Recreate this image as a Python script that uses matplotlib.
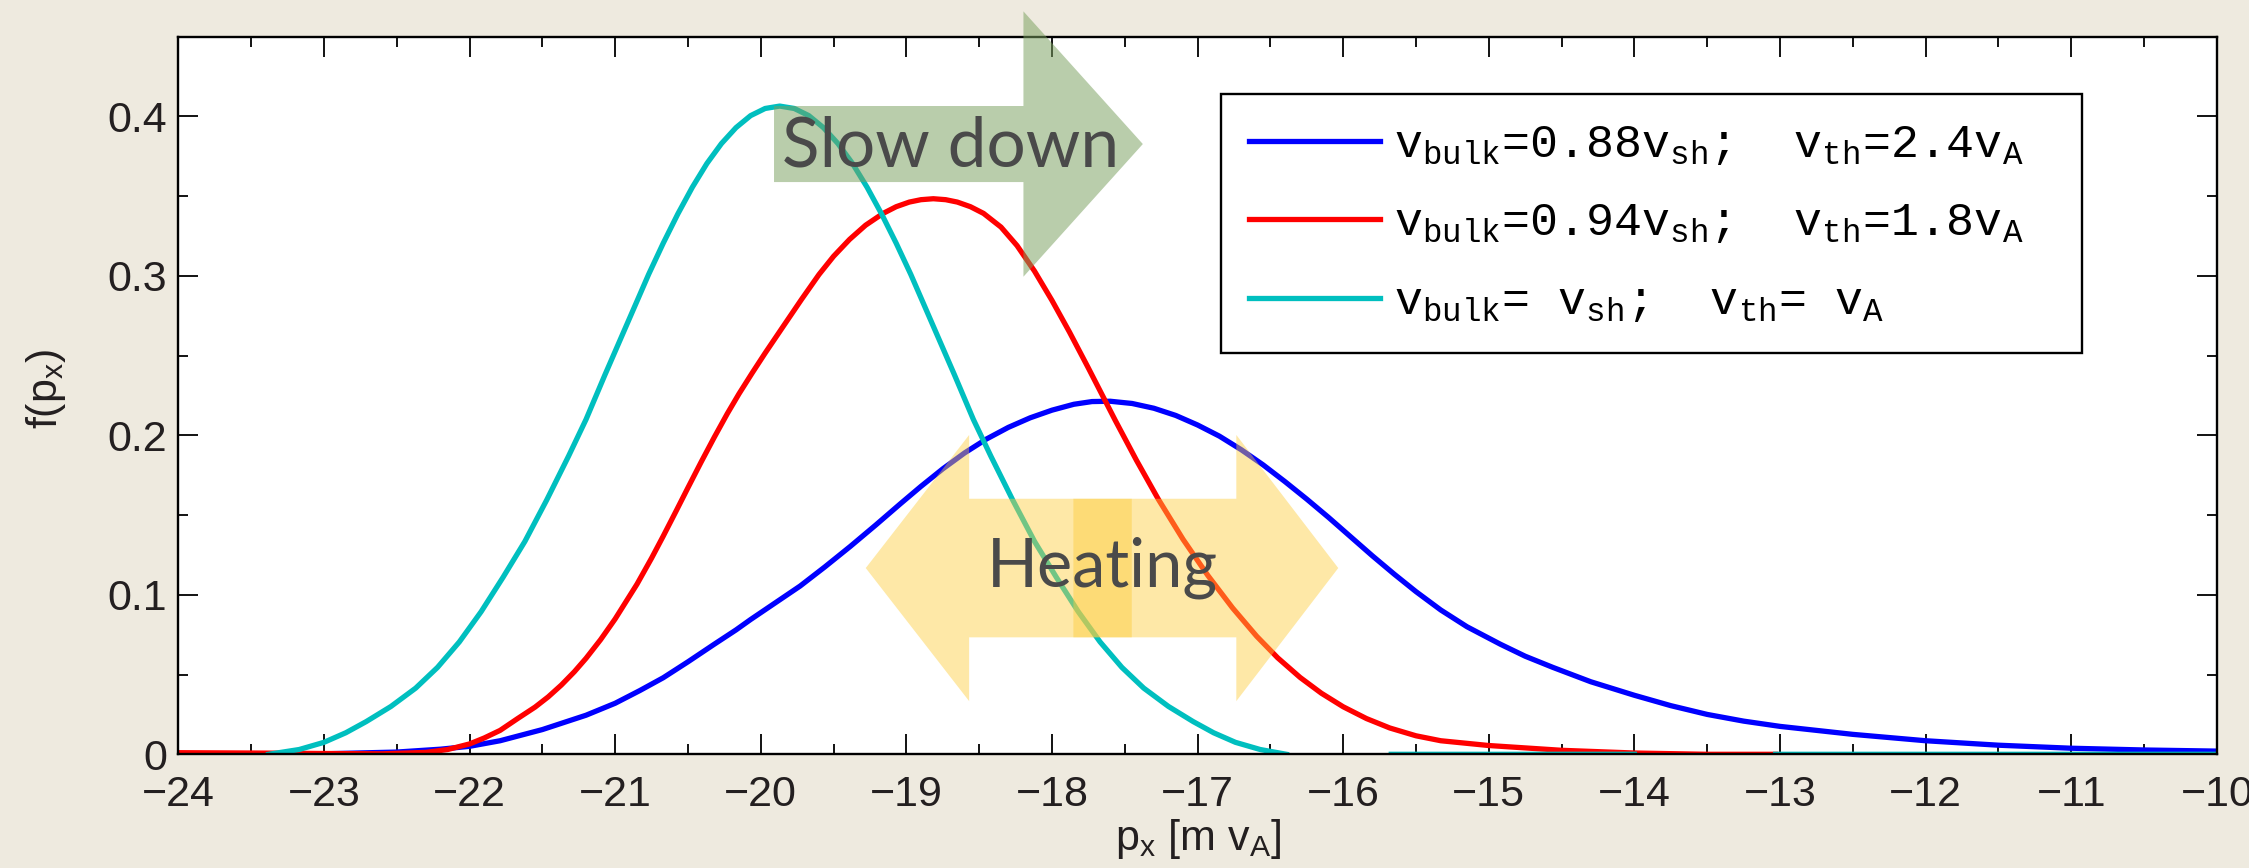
import numpy as np
import matplotlib
matplotlib.use('Agg')
from matplotlib import pyplot as plt
from matplotlib import patches as mpatches
from matplotlib.ticker import MultipleLocator, FixedLocator, FixedFormatter

nan = np.nan

# p_x samples and f(p_x), one pair of lists per curve
px_blue = [-24.0, -23.5, -23.0, -22.5, -22.2, -22.0, -21.79, -21.5, -21.2, -21.0,
           -20.83, -20.67, -20.5, -20.32, -20.17, -20.07, -19.9, -19.73, -19.56, -19.386,
           -19.21, -19.04, -18.9, -18.75, -18.6, -18.45, -18.3, -18.15, -18.0, -17.85,
           -17.725, -17.6, -17.45, -17.3, -17.15, -17.0, -16.85, -16.7, -16.55, -16.4,
           -16.25, -16.1, -15.95, -15.8, -15.65, -15.5, -15.33, -15.15, -14.92, -14.75,
           -14.56, -14.3, -14.0, -13.75, -13.5, -13.25, -13.0, -12.5, -12.0, -11.5,
           -11.0, -10.5, -10.0]
f_blue = [0.0, 0.0001, 0.0003, 0.0014, 0.0032, 0.005, 0.0085, 0.0155, 0.0245, 0.032,
          0.040, 0.048, 0.058, 0.069, 0.078, 0.0845, 0.095, 0.1055, 0.1175, 0.1303,
          0.1438, 0.1572, 0.168, 0.179, 0.189, 0.1977, 0.205, 0.211, 0.2158, 0.2195,
          0.2212, 0.2214, 0.220, 0.217, 0.2125, 0.2065, 0.1995, 0.191, 0.1815, 0.171,
          0.160, 0.1485, 0.1365, 0.1245, 0.113, 0.102, 0.0905, 0.080, 0.069, 0.0615,
          0.0545, 0.0455, 0.037, 0.0305, 0.025, 0.0208, 0.0175, 0.0125, 0.0085, 0.0057,
          0.0038, 0.0027, 0.002]

px_red = [-24.0, -23.5, -23.0, -22.6, -22.3, -22.15, -22.0, -21.9, -21.79, -21.67,
          -21.55, -21.46, -21.37, -21.28, -21.2, -21.1, -21.0, -20.85, -20.75, -20.67,
          -20.58, -20.5, -20.41, -20.32, -20.23, -20.15, -20.06, -19.97, -19.85, -19.72,
          -19.6, -19.5, -19.39, -19.28, -19.16, -19.07, -18.98, -18.9, -18.815, -18.73,
          -18.65, -18.56, -18.47, -18.35, -18.24, -18.12, -18.0, -17.88, -17.75, -17.66,
          -17.566, -17.42, -17.27, -17.1, -16.93, -16.76, -16.594, -16.45, -16.296, -16.15,
          -16.0, -15.84, -15.68, -15.5, -15.33, -15.0, -14.5, -14.0, -13.5, -13.03]
f_red = [0.001, 0.0008, 0.0005, 0.0003, 0.0012, 0.003, 0.0065, 0.0102, 0.015, 0.0224,
         0.0296, 0.036, 0.0434, 0.0518, 0.0602, 0.0719, 0.0849, 0.1067, 0.123, 0.1368,
         0.1528, 0.1672, 0.1832, 0.1987, 0.2136, 0.226, 0.239, 0.2516, 0.2678, 0.2853,
         0.3009, 0.3123, 0.3229, 0.3318, 0.3392, 0.3434, 0.3463, 0.3478, 0.3484, 0.3478,
         0.3463, 0.3434, 0.3392, 0.3306, 0.319, 0.303, 0.2846, 0.2648, 0.2422, 0.2262,
         0.2095, 0.1844, 0.160, 0.1348, 0.1122, 0.0918, 0.074, 0.0605, 0.0482, 0.0383,
         0.0298, 0.0224, 0.0165, 0.0116, 0.0085, 0.0055, 0.0025, 0.0008, 0.0, 0.0]

px_cyan = [-23.38, -23.17, -23.0, -22.85, -22.71, -22.54, -22.37, -22.22, -22.07, -21.92,
           -21.77, -21.62, -21.47, -21.32, -21.2, -21.07, -20.97, -20.87, -20.77, -20.67,
           -20.57, -20.47, -20.37, -20.27, -20.17, -20.07, -19.97, -19.87, -19.77, -19.67,
           -19.57, -19.47, -19.37, -19.27, -19.17, -19.07, -18.97, -18.87, -18.77, -18.67,
           -18.54, -18.42, -18.27, -18.12, -17.97, -17.82, -17.67, -17.52, -17.37, -17.2,
           -17.03, -16.89, -16.74, -16.57, -16.39, nan, -15.67, -14.0, nan, -13.03, -10.0]
f_cyan = [0.0, 0.003, 0.0075, 0.0135, 0.0205, 0.030, 0.0415, 0.0545, 0.0705, 0.0895,
          0.111, 0.1335, 0.1595, 0.187, 0.210, 0.238, 0.259, 0.280, 0.301, 0.3205,
          0.3388, 0.3556, 0.3705, 0.383, 0.393, 0.4005, 0.405, 0.4065, 0.405, 0.4005,
          0.393, 0.383, 0.3705, 0.3556, 0.3388, 0.3205, 0.301, 0.280, 0.259, 0.238,
          0.210, 0.187, 0.1595, 0.1335, 0.111, 0.0895, 0.0705, 0.0545, 0.0415, 0.030,
          0.0205, 0.0135, 0.0075, 0.003, 0.0, nan, 0.0, 0.0, nan, 0.0, 0.0]

labels = [
    'v$_{\\mathregular{bulk}}$=0.88v$_{\\mathregular{sh}}$;  v$_{\\mathregular{th}}$=2.4v$_{\\mathregular{A}}$',
    'v$_{\\mathregular{bulk}}$=0.94v$_{\\mathregular{sh}}$;  v$_{\\mathregular{th}}$=1.8v$_{\\mathregular{A}}$',
    'v$_{\\mathregular{bulk}}$= v$_{\\mathregular{sh}}$;  v$_{\\mathregular{th}}$= v$_{\\mathregular{A}}$',
]
colors = ['#0000ff', '#ff0000', '#00bfbf']

xticks = list(range(-24, -9))
yticks = [0, 0.1, 0.2, 0.3, 0.4]
ytick_labels = ['0', '0.1', '0.2', '0.3', '0.4']

plt.rcParams['font.family'] = ['Liberation Sans', 'DejaVu Sans']
plt.rcParams['mathtext.default'] = 'regular'

fig = plt.figure(figsize=(22.49, 8.68), dpi=100, facecolor='#eeeadf')
ax = fig.add_axes([0.0793, 0.1310, 0.9064, 0.8267])
ax.set_facecolor('white')

for xs, ys, c, lab in zip([px_blue, px_red, px_cyan], [f_blue, f_red, f_cyan], colors, labels):
    ax.plot(xs, ys, color=c, lw=3.8, label=lab, zorder=2, solid_joinstyle='round')

ax.set_xlim(-24, -10)
ax.set_ylim(0, 0.45)
ax.xaxis.set_major_locator(FixedLocator(xticks))
ax.xaxis.set_minor_locator(MultipleLocator(0.5))
ax.yaxis.set_major_locator(FixedLocator(yticks))
ax.yaxis.set_major_formatter(FixedFormatter(ytick_labels))
ax.yaxis.set_minor_locator(MultipleLocator(0.05))
ax.tick_params(which='both', direction='in', top=True, right=True, width=1.3, color='black',
               labelsize=31, labelcolor='#231f20')
ax.tick_params(which='major', length=14.5)
ax.tick_params(which='minor', length=7.2)
ax.tick_params(axis='x', pad=15)
ax.tick_params(axis='y', pad=8)
for s in ax.spines.values():
    s.set_linewidth(1.7)
    s.set_zorder(2.5)

ax.set_xlabel('p$_{\\mathregular{x}}$ [m v$_{\\mathregular{A}}$]', fontsize=31, color='#231f20')
ax.xaxis.set_label_coords(0.5, -0.087)
ax.set_ylabel('f(p$_{\\mathregular{x}}$)', fontsize=31, color='#231f20')
ax.yaxis.set_label_coords(-0.054, 0.51)

# annotation arrows
slow = mpatches.FancyArrow(-19.909, 0.3827, 2.533, 0.0, width=0.0477, head_width=0.1664,
                           head_length=0.82, length_includes_head=True,
                           color='#7aa05f', alpha=0.525, lw=0, clip_on=False, zorder=3)
ax.add_patch(slow)
heat_l = mpatches.FancyArrow(-17.452, 0.1168, -1.827, 0.0, width=0.0869, head_width=0.1669,
                             head_length=0.71, length_includes_head=True,
                             color='#fdcd3c', alpha=0.45, lw=0, zorder=3)
heat_r = mpatches.FancyArrow(-17.853, 0.1168, 1.819, 0.0, width=0.0869, head_width=0.1669,
                             head_length=0.70, length_includes_head=True,
                             color='#fdcd3c', alpha=0.45, lw=0, zorder=3)
ax.add_patch(heat_l)
ax.add_patch(heat_r)

ax.text(-19.856, 0.3689, 'Slow down', family=['Lato', 'DejaVu Sans'], fontsize=50,
        color='#4a4a4a', ha='left', va='baseline', zorder=4)
ax.text(-18.448, 0.1052, 'Heating', family=['Lato', 'DejaVu Sans'], fontsize=48,
        color='#4a4a4a', ha='left', va='baseline', zorder=4)

leg = ax.legend(loc='upper left', bbox_to_anchor=(0.5113, 0.5, 0.4225, 0.4199), mode='expand',
                borderaxespad=0, prop={'family': 'Liberation Mono', 'size': 33.5},
                handlelength=2.8, handletextpad=0.3, borderpad=0.62, labelspacing=0.74,
                fancybox=False, framealpha=1, edgecolor='black')
leg.get_frame().set_linewidth(1.7)
leg.set_zorder(5)

fig.savefig('out.png', dpi=100, facecolor=fig.get_facecolor())
